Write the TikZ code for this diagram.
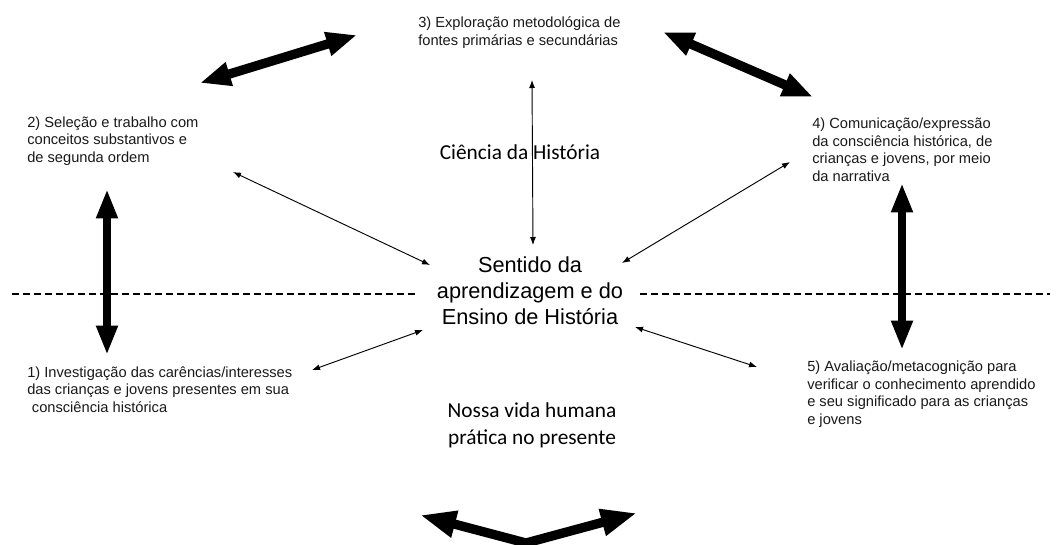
\documentclass[tikz,border=0pt]{standalone}
\usepackage{fontspec}
\setmainfont{Liberation Sans}
\newfontfamily\calib{Carlito}
\usetikzlibrary{arrows.meta}
\begin{document}
\begin{tikzpicture}[x=0.75pt,y=-0.75pt,
  item/.style={anchor=base west, inner sep=0pt, align=left, text=black!90, font=\fontsize{11}{13.1}\selectfont},
  bigtxt/.style={anchor=base, inner sep=0pt, align=center, font=\fontsize{16.3}{19.4}\selectfont},
  caltxt/.style={anchor=base, inner sep=0pt, align=center, font=\calib\fontsize{16}{19.8}\selectfont},
  fat/.style={line width=6pt, {Triangle[width=15pt,length=22pt]}-{Triangle[width=15pt,length=22pt]}},
  fatdiag/.style={line width=7pt, {Triangle[width=17pt,length=23pt]}-{Triangle[width=17pt,length=23pt]}},
  fatter/.style={line width=7pt, line join=miter, {Triangle[width=19pt,length=27pt]}-{Triangle[width=19pt,length=27pt]}},
  thin/.style={line width=0.7pt, {Latex[length=6pt,width=4.5pt]}-{Latex[length=6pt,width=4.5pt]}},
  dashline/.style={line width=0.8pt, dash pattern=on 5.25pt off 3pt}
]
\useasboundingbox (0,0) rectangle (1056,544);

% texts (anchor at the baseline of the last line)
\node[item] (i3) at (418,45) {3) Exploração metodológica de\\fontes primárias e secundárias};
\node[item] (i2) at (27,162) {2) Seleção e trabalho com\\conceitos substantivos e\\de segunda ordem};
\node[item] (i4) at (812,181) {4) Comunicação/expressão\\da consciência histórica, de\\crianças e jovens, por meio\\da narrativa};
\node[item] (i1) at (27,412) {1) Investigação das carências/interesses\\das crianças e jovens presentes em sua\\\hspace*{3.5pt}consciência histórica};
\node[item] (i5) at (807,424) {5) Avaliação/metacognição para\\verificar o conhecimento aprendido\\e seu significado para as crianças\\e jovens};
\node[caltxt] (ci) at (520,159) {Ciência da História};
\node[bigtxt] (se) at (530,324) {Sentido da\\aprendizagem e do\\Ensino de História};
\node[caltxt] (no) at (532,444) {Nossa vida humana\\prática no presente};

% dashed line
\coordinate (dl1) at (12,294);
\coordinate (dl2) at (415,294);
\coordinate (dr1) at (640,294);
\coordinate (dr2) at (1050,294);
\draw[dashline] (dl1) -- (dl2);
\draw[dashline] (dr1) -- (dr2);

% thick arrows
\coordinate (a1) at (200,83);
\coordinate (a2) at (357,35);
\coordinate (b1) at (663,32);
\coordinate (b2) at (813,97);
\coordinate (c1) at (107,189);
\coordinate (c2) at (107,355);
\coordinate (d1) at (902,183);
\coordinate (d2) at (902,350);
\coordinate (e1) at (420,515);
\coordinate (e2) at (526,543);
\coordinate (e3) at (637,513);
\draw[fatdiag] (a1) -- (a2);
\draw[fatdiag] (b1) -- (b2);
\draw[fat] (c1) -- (c2);
\draw[fat] (d1) -- (d2);
\draw[fatter] (e1) -- (e2) -- (e3);

% thin arrows
\coordinate (t1) at (532,80);
\coordinate (t2) at (533,245);
\coordinate (u1) at (233,172);
\coordinate (u2) at (430,265);
\coordinate (v1) at (790,162);
\coordinate (v2) at (622,263);
\coordinate (w1) at (312,370);
\coordinate (w2) at (423,330);
\coordinate (z1) at (635,327);
\coordinate (z2) at (757,367);
\draw[thin] (t1) -- (t2);
\draw[thin] (u1) -- (u2);
\draw[thin] (v1) -- (v2);
\draw[thin] (w1) -- (w2);
\draw[thin] (z1) -- (z2);
\end{tikzpicture}
\end{document}
